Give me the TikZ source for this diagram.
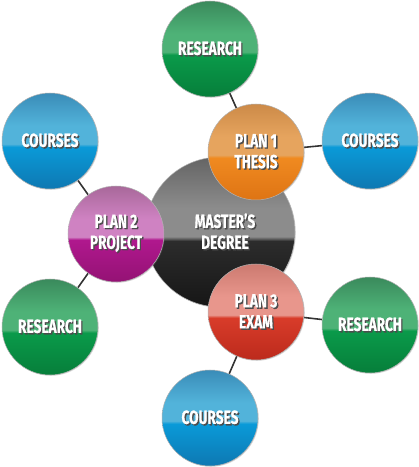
\documentclass[tikz,border=0pt]{standalone}
\usepackage{fontspec}
\newfontfamily\bubblefont[FakeStretch=0.72,FakeBold=0.6]{Fira Sans}
\usetikzlibrary{backgrounds,shadows}

\definecolor{bluelo}{HTML}{0E78B2}
\definecolor{bluemid}{HTML}{0A9AD8}
\definecolor{bluehi}{HTML}{52B3DA}
\definecolor{bluetop}{HTML}{3A8CB8}
\definecolor{greenlo}{HTML}{067E3A}
\definecolor{greenmid}{HTML}{0A9A4A}
\definecolor{greenhi}{HTML}{4EB277}
\definecolor{greentop}{HTML}{3A8A5C}
\definecolor{orangelo}{HTML}{DE7414}
\definecolor{orangemid}{HTML}{F08A20}
\definecolor{orangehi}{HTML}{E6A45E}
\definecolor{orangetop}{HTML}{CC8A48}
\definecolor{purplelo}{HTML}{941274}
\definecolor{purplemid}{HTML}{B0188E}
\definecolor{purplehi}{HTML}{CF82C2}
\definecolor{purpletop}{HTML}{A8689A}
\definecolor{redlo}{HTML}{BC2A1C}
\definecolor{redmid}{HTML}{D83C2A}
\definecolor{redhi}{HTML}{E8968C}
\definecolor{redtop}{HTML}{CC7A70}
\definecolor{graylo}{HTML}{161616}
\definecolor{graymid}{HTML}{2C2C2C}
\definecolor{grayhi}{HTML}{8C8C8C}
\definecolor{graytop}{HTML}{646464}

\newcommand{\declareball}[5]{%
  \pgfdeclareverticalshading{#1}{100bp}{color(0bp)=(#2); color(25bp)=(#2);
    color(47bp)=(#3); color(48.5bp)=(#4); color(58bp)=(#4);
    color(75bp)=(#5); color(100bp)=(#5)}}
\declareball{glossblue}{bluelo}{bluemid}{bluehi}{bluetop}
\declareball{glossgreen}{greenlo}{greenmid}{greenhi}{greentop}
\declareball{glossorange}{orangelo}{orangemid}{orangehi}{orangetop}
\declareball{glosspurple}{purplelo}{purplemid}{purplehi}{purpletop}
\declareball{glossred}{redlo}{redmid}{redhi}{redtop}
\declareball{glossgray}{graylo}{graymid}{grayhi}{graytop}

\newcommand{\glow}[1]{\leavevmode\rlap{\kern1.4pt\raisebox{-1.4pt}{\color{black!70}#1}}#1}

\tikzset{
    ball/.style={circle, minimum size=96pt, inner sep=0pt,
        draw=black!30, line width=.5pt, text=white, align=center,
        drop shadow={shadow xshift=.8pt, shadow yshift=-.8pt, opacity=.3},
        font=\bubblefont\bfseries\fontsize{19}{21}\selectfont},
    blueball/.style={ball, shading=glossblue},
    greenball/.style={ball, shading=glossgreen},
    orangeball/.style={ball, shading=glossorange},
    purpleball/.style={ball, shading=glosspurple},
    redball/.style={ball, shading=glossred},
    degreeball/.style={ball, minimum size=150pt, shading=glossgray},
    link/.style={draw=black!80, line width=1.6pt},
}

\begin{document}
\begin{tikzpicture}[x=1pt, y=1pt]
    \useasboundingbox (0,0) rectangle (419,467);
    \node[greenball] (research1) at (210,418) {\glow{RESEARCH}};
    \node[blueball] (courses1) at (370,326) {\glow{COURSES}};
    \node[blueball] (courses2) at (50,326) {\glow{COURSES}};
    \node[greenball] (research2) at (50,140) {\glow{RESEARCH}};
    \node[greenball] (research3) at (370,142) {\glow{RESEARCH}};
    \node[blueball] (courses3) at (210,49) {\glow{COURSES}};
    \node[degreeball] (degree) at (220,235)
        {\hspace*{10pt}\glow{MASTER’S}\\\hspace*{10pt}\glow{DEGREE}};
    \node[orangeball] (thesis) at (256,315) {\glow{PLAN 1}\\\glow{THESIS}};
    \node[purpleball] (project) at (116,233) {\glow{PLAN 2}\\\glow{PROJECT}};
    \node[redball] (exam) at (256,155) {\glow{PLAN 3}\\\glow{EXAM}};
    \begin{scope}[on background layer]
        \draw[link] (thesis) -- (research1);
        \draw[link] (thesis) -- (courses1);
        \draw[link] (project) -- (courses2);
        \draw[link] (project) -- (research2);
        \draw[link] (exam) -- (research3);
        \draw[link] (exam) -- (courses3);
    \end{scope}
\end{tikzpicture}
\end{document}
